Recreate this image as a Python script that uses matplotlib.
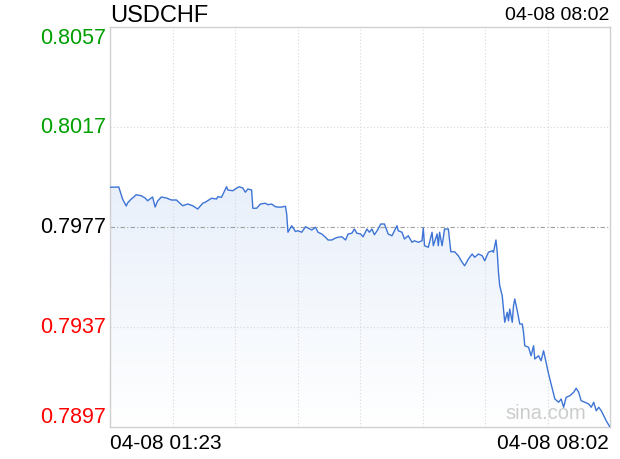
"""
Intraday USDCHF minute chart in the sina finance style.
"""

import matplotlib
matplotlib.use("Agg")
import matplotlib.pyplot as plt
import matplotlib.transforms as mtransforms
import numpy as np
from matplotlib.colors import LinearSegmentedColormap

SYMBOL = "USDCHF"
START_LABEL = "04-08 01:23"
END_LABEL = "04-08 08:02"
PREV_CLOSE = 0.7977
Y_TICKS = [0.8057, 0.8017, 0.7977, 0.7937, 0.7897]
Y_COLORS = ["#00a000", "#00a000", "#000000", "#ff0000", "#ff0000"]
TOTAL_MINUTES = 399

# minutes after 01:23 and the price
minutes = [
    0, 7, 10, 13, 14, 17, 21, 25, 28, 30, 34, 36, 38, 41, 45, 49, 53, 58, 62, 66,
    70, 74, 76, 81, 85, 86, 89, 93, 94, 98, 100, 103, 106, 108, 110, 113, 114, 117,
    120, 124, 126, 129, 132, 136, 140, 141, 142, 145, 148, 150, 153, 156, 158, 161,
    164, 166, 169, 172, 174, 177, 180, 182, 185, 188, 190, 193, 195, 197, 200, 202,
    205, 207, 209, 211, 214, 216, 219, 222, 225, 227, 229, 230, 233, 235, 238, 241,
    243, 246, 249, 250, 251, 254, 257, 258, 261, 262, 263, 265, 267, 270, 272, 275,
    278, 281, 283, 286, 289, 291, 294, 297, 299, 302, 305, 306, 308, 309, 310, 311,
    313, 314, 315, 317, 318, 319, 321, 322, 323, 325, 327, 329, 330, 331, 334, 336,
    338, 339, 342, 344, 346, 348, 350, 352, 355, 358, 360, 362, 364, 367, 370, 372,
    374, 376, 379, 382, 384, 386, 388, 390, 392, 394, 396, 399,
]
prices = [
    0.79929, 0.79930, 0.79882, 0.79854, 0.79866, 0.79882, 0.79899, 0.79895, 0.79886, 0.79875,
    0.79890, 0.79850, 0.79874, 0.79890, 0.79886, 0.79878, 0.79878, 0.79855, 0.79862, 0.79855,
    0.79842, 0.79865, 0.79869, 0.79885, 0.79882, 0.79891, 0.79889, 0.79931, 0.79918, 0.79915,
    0.79922, 0.79931, 0.79926, 0.79909, 0.79922, 0.79918, 0.79845, 0.79845, 0.79862, 0.79865,
    0.79859, 0.79862, 0.79851, 0.79849, 0.79853, 0.79822, 0.79749, 0.79775, 0.79752, 0.79755,
    0.79749, 0.79771, 0.79766, 0.79758, 0.79769, 0.79749, 0.79742, 0.79729, 0.79718, 0.79718,
    0.79726, 0.79729, 0.79731, 0.79718, 0.79742, 0.79745, 0.79762, 0.79745, 0.79742, 0.79731,
    0.79762, 0.79749, 0.79762, 0.79739, 0.79762, 0.79782, 0.79782, 0.79742, 0.79735, 0.79755,
    0.79775, 0.79755, 0.79749, 0.79722, 0.79735, 0.79709, 0.79715, 0.79709, 0.79715, 0.79765,
    0.79695, 0.79689, 0.79749, 0.79695, 0.79742, 0.79695, 0.79749, 0.79695, 0.79762, 0.79762,
    0.79671, 0.79671, 0.79655, 0.79629, 0.79615, 0.79642, 0.79662, 0.79649, 0.79662, 0.79655,
    0.79635, 0.79669, 0.79675, 0.79669, 0.79718, 0.79670, 0.79589, 0.79535, 0.79495, 0.79442,
    0.79389, 0.79429, 0.79395, 0.79442, 0.79389, 0.79455, 0.79482, 0.79435, 0.79382, 0.79382,
    0.79349, 0.79295, 0.79289, 0.79255, 0.79295, 0.79242, 0.79255, 0.79235, 0.79275, 0.79229,
    0.79182, 0.79142, 0.79082, 0.79069, 0.79082, 0.79049, 0.79089, 0.79095, 0.79109, 0.79125,
    0.79109, 0.79075, 0.79069, 0.79062, 0.79049, 0.79069, 0.79035, 0.79049, 0.79035, 0.79015,
    0.78995, 0.78969,
]


def draw_frame(ax):
    """Grid lines, border and price labels."""
    ymin, ymax = min(Y_TICKS), max(Y_TICKS)
    ax.set_xlim(0, TOTAL_MINUTES)
    ax.set_ylim(ymin, ymax)
    ax.set_xticks([])
    ax.set_yticks([])
    for spine in ax.spines.values():
        spine.set_color("#d0d0d0")
        spine.set_linewidth(1)

    for k in range(1, 8):
        ax.axvline(TOTAL_MINUTES * k / 8, color="#d8d8d8", lw=0.8,
                   ls=(0, (1, 2)), zorder=1)
    for val in Y_TICKS[1:-1]:
        if val == PREV_CLOSE:
            ax.axhline(val, color="#a0a0a0", lw=0.8, ls=(0, (4, 2, 1, 2)), zorder=1)
        else:
            ax.axhline(val, color="#d8d8d8", lw=0.8, ls=(0, (1, 2)), zorder=1)

    trans = mtransforms.blended_transform_factory(ax.transAxes, ax.transData)
    for val, col in zip(Y_TICKS, Y_COLORS):
        if val == ymax:
            va = "top"
        elif val == ymin:
            va = "bottom"
        else:
            va = "center"
        ax.text(-0.008, val, f"{val:.4f}", transform=trans, ha="right", va=va,
                color=col, fontsize=15.5, family="Liberation Sans")


def draw_series(ax):
    """Price line with the pale blue gradient below it."""
    x = np.array(minutes)
    y = np.array(prices)
    ymin, ymax = min(Y_TICKS), max(Y_TICKS)

    poly = ax.fill_between(x, y, ymin, color="none", lw=0)
    cmap = LinearSegmentedColormap.from_list("fade", ["#ffffff", "#dae6f8"])
    grad = np.linspace(0, 1, 256).reshape(-1, 1)
    img = ax.imshow(grad, cmap=cmap, aspect="auto", origin="lower",
                    extent=[0, TOTAL_MINUTES, ymin, ymax], zorder=0)
    img.set_clip_path(poly.get_paths()[0], transform=ax.transData)

    ax.plot(x, y, color="#3d74d6", lw=1.0, zorder=3)
    ax.text(0.952, 0.012, "sina.com", transform=ax.transAxes, ha="right",
            va="bottom", color="#cccccc", fontsize=14.5, family="Liberation Sans",
            zorder=4)


def main():
    """Build the chart and save it."""
    fig = plt.figure(figsize=(6.2, 4.6), dpi=100)
    ax = fig.add_axes([110 / 620, 32 / 460, 500 / 620, 400 / 460])
    draw_frame(ax)
    draw_series(ax)

    fig.text(110 / 620, 1 - 16 / 460, SYMBOL, ha="left", va="center",
             fontsize=17, family="Liberation Sans")
    fig.text(609 / 620, 1 - 16 / 460, END_LABEL, ha="right", va="center",
             fontsize=14, family="Liberation Sans")
    fig.text(110 / 620, 1 - 444 / 460, START_LABEL, ha="left", va="center",
             fontsize=15, family="Liberation Sans")
    fig.text(609 / 620, 1 - 444 / 460, END_LABEL, ha="right", va="center",
             fontsize=15, family="Liberation Sans")

    fig.savefig("out.png", dpi=100)


if __name__ == "__main__":
    main()
